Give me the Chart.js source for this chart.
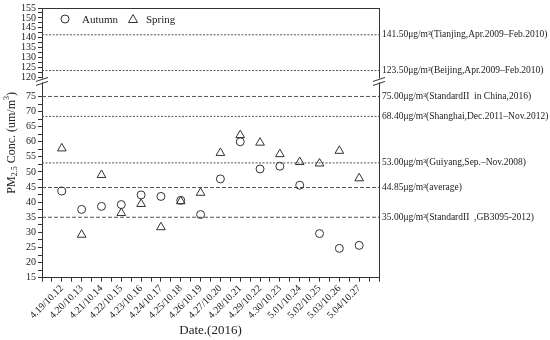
<!DOCTYPE html>
<html>
<head>
<meta charset="utf-8">
<script src="https://cdn.jsdelivr.net/npm/chart.js@4.4.1/dist/chart.umd.min.js"></script>
<style>
  html, body { margin: 0; padding: 0; background: #fff; }
  #wrap { width: 550px; height: 340px; }
</style>
</head>
<body>
<div id="wrap"><canvas id="pmChart"></canvas></div>
<script>
const dates = ['4.19/10.12', '4.20/10.13', '4.21/10.14', '4.22/10.15', '4.23/10.16', '4.24/10.17',
  '4.25/10.18', '4.26/10.19', '4.27/10.20', '4.28/10.21', '4.29/10.22', '4.30/10.23',
  '5.01/10.24', '5.02/10.25', '5.03/10.26', '5.04/10.27'];
const autumn = [43.7, 37.6, 38.6, 39.2, 42.4, 41.9, 40.6, 35.9, 47.7, 60.0, 51.0, 51.9, 45.6, 29.6, 24.7, 25.7];
const spring = [57.8, 29.2, 49.0, 36.4, 39.4, 31.7, 40.3, 43.1, 56.3, 62.2, 59.7, 55.9, 53.3, 52.8, 57.0, 47.9];

const refValues = [141.5, 123.5, 75.0, 68.4, 53.0, 44.85, 35.0];
const refNotes = ['Tianjing,Apr.2009–Feb.2010', 'Beijing,Apr.2009–Feb.2010', 'StandardII  in China,2016',
  'Shanghai,Dec.2011–Nov.2012', 'Guiyang,Sep.–Nov.2008', 'average', 'StandardII  ,GB3095-2012'];
const refDash = [[2, 1.5], [2, 1.5], [4, 2], [2, 1.5], [2, 1.5], [4, 2], [4, 2]];

const lowTicks = [15, 20, 25, 30, 35, 40, 45, 50, 55, 60, 65, 70, 75];
const highTicks = [120, 125, 130, 135, 140, 145, 150, 155];

const ink = '#333';
const serif = '"Liberation Serif", "Times New Roman", serif';

// major ticks from the arrays, plus a minor one halfway
function withMinors(list) {
  const out = [];
  list.forEach((v, i) => {
    out.push({ value: v });
    if (i < list.length - 1) out.push({ value: (v + list[i + 1]) / 2 });
  });
  return out;
}

const refSets = refValues.map((v, i) => ({
  type: 'line',
  label: 'ref' + i,
  data: [{ x: 0, y: v }, { x: dates.length + 1, y: v }],
  yAxisID: v > 100 ? 'yHigh' : 'yLow',
  showLine: true,
  borderColor: '#555',
  borderWidth: 1,
  borderDash: refDash[i],
  pointRadius: 0
}));

// y title with sub/superscripts, centred on the whole (broken) axis
function drawYTitle(ctx, x, y) {
  const parts = [
    ['PM', 12, 0], ['2.5', 8, 3], [' Conc. (um/m', 12, 0], ['3', 8, -5], [')', 12, 0]
  ];
  let total = 0;
  parts.forEach(p => { ctx.font = p[1] + 'px ' + serif; total += ctx.measureText(p[0]).width; });
  ctx.save();
  ctx.translate(x, y);
  ctx.rotate(-Math.PI / 2);
  ctx.textBaseline = 'middle';
  ctx.textAlign = 'left';
  let cx = -total / 2;
  parts.forEach(p => {
    ctx.font = p[1] + 'px ' + serif;
    ctx.fillText(p[0], cx, p[2]);
    cx += ctx.measureText(p[0]).width;
  });
  ctx.restore();
}

const extras = {
  id: 'pmExtras',
  afterDraw(chart) {
    const { ctx, chartArea: a, scales } = chart;
    ctx.save();
    ctx.strokeStyle = ink;
    ctx.lineWidth = 1;
    // top and right frame
    ctx.beginPath();
    ctx.moveTo(a.left, a.top + 0.5);
    ctx.lineTo(a.right, a.top + 0.5);
    ctx.moveTo(a.right + 0.5, a.top);
    ctx.lineTo(a.right + 0.5, a.bottom);
    ctx.stroke();

    // axis break marks
    const yb = scales.yHigh.bottom;
    [a.left, a.right].forEach(x => {
      ctx.fillStyle = '#fff';
      ctx.fillRect(x - 3, yb - 2, 6, 4);
      ctx.beginPath();
      ctx.moveTo(x - 6, yb + 1);
      ctx.lineTo(x + 6, yb - 3);
      ctx.moveTo(x - 6, yb + 5);
      ctx.lineTo(x + 6, yb + 1);
      ctx.stroke();
    });

    // labels for the reference lines
    ctx.fillStyle = '#222';
    ctx.font = '9.5px ' + serif;
    ctx.textBaseline = 'middle';
    refValues.forEach((v, i) => {
      const sc = v > 100 ? scales.yHigh : scales.yLow;
      const y = sc.getPixelForValue(v);
      ctx.fillText(v.toFixed(2) + 'μg/m³(' + refNotes[i] + ')', a.right + 3, y);
    });

    // legend inside the plot
    ctx.font = '11px ' + serif;
    const ly = a.top + 11;
    ctx.beginPath();
    ctx.arc(a.left + 23, ly, 4, 0, Math.PI * 2);
    ctx.stroke();
    ctx.fillText(chart.data.datasets[0].label, a.left + 40, ly + 1);
    const tx = a.left + 91;
    ctx.beginPath();
    ctx.moveTo(tx, ly - 4.5);
    ctx.lineTo(tx + 4.5, ly + 3.5);
    ctx.lineTo(tx - 4.5, ly + 3.5);
    ctx.closePath();
    ctx.stroke();
    ctx.fillText(chart.data.datasets[1].label, a.left + 104, ly + 1);

    drawYTitle(ctx, 12, (a.top + a.bottom) / 2);
    ctx.restore();
  }
};

const axisGrid = { drawOnChartArea: false, drawTicks: true, tickLength: 4, color: ink };

new Chart(document.getElementById('pmChart'), {
  type: 'scatter',
  data: {
    datasets: [
      {
        label: 'Autumn',
        data: autumn.map((v, i) => ({ x: i + 1, y: v })),
        yAxisID: 'yLow',
        pointStyle: 'circle',
        pointRadius: 4,
        borderColor: ink,
        backgroundColor: 'rgba(255,255,255,0)',
        borderWidth: 1
      },
      {
        label: 'Spring',
        data: spring.map((v, i) => ({ x: i + 1, y: v })),
        yAxisID: 'yLow',
        pointStyle: 'triangle',
        pointRadius: 5,
        borderColor: ink,
        backgroundColor: 'rgba(255,255,255,0)',
        borderWidth: 1
      },
      ...refSets
    ]
  },
  options: {
    responsive: true,
    maintainAspectRatio: false,
    animation: false,
    layout: { padding: { top: 4, right: 171, left: 19, bottom: 0 } },
    plugins: { legend: { display: false }, tooltip: { enabled: false } },
    scales: {
      x: {
        type: 'linear',
        min: 0,
        max: dates.length + 1,
        afterBuildTicks: scale => {
          const t = [];
          for (let i = 0; i <= dates.length + 1; i++) {
            t.push({ value: i });
            if (i <= dates.length) t.push({ value: i + 0.5 });
          }
          scale.ticks = t;
        },
        ticks: {
          autoSkip: false,
          minRotation: 45,
          maxRotation: 45,
          padding: 1,
          color: '#222',
          font: { family: serif, size: 10 },
          callback: v => (Number.isInteger(v) && v >= 1 && v <= dates.length) ? dates[v - 1] : ''
        },
        grid: axisGrid,
        border: { display: true, color: ink },
        title: { display: true, text: 'Date.(2016)', color: '#222', font: { family: serif, size: 13 }, padding: { top: 0, bottom: 2 } }
      },
      yLow: {
        type: 'linear',
        position: 'left',
        stack: 'pm',
        stackWeight: 196,
        min: 15,
        max: 80.3,
        afterBuildTicks: scale => { scale.ticks = withMinors(lowTicks); },
        ticks: {
          autoSkip: false,
          color: '#222',
          padding: 2,
          font: { family: serif, size: 10 },
          callback: v => lowTicks.includes(v) ? v : ''
        },
        grid: axisGrid,
        border: { display: true, color: ink }
      },
      yHigh: {
        type: 'linear',
        position: 'left',
        stack: 'pm',
        stackWeight: 72,
        min: 118.5,
        max: 155,
        afterBuildTicks: scale => { scale.ticks = withMinors(highTicks); },
        ticks: {
          autoSkip: false,
          color: '#222',
          padding: 2,
          font: { family: serif, size: 10 },
          callback: v => highTicks.includes(v) ? v : ''
        },
        grid: axisGrid,
        border: { display: true, color: ink }
      }
    }
  },
  plugins: [extras]
});
</script>
</body>
</html>
